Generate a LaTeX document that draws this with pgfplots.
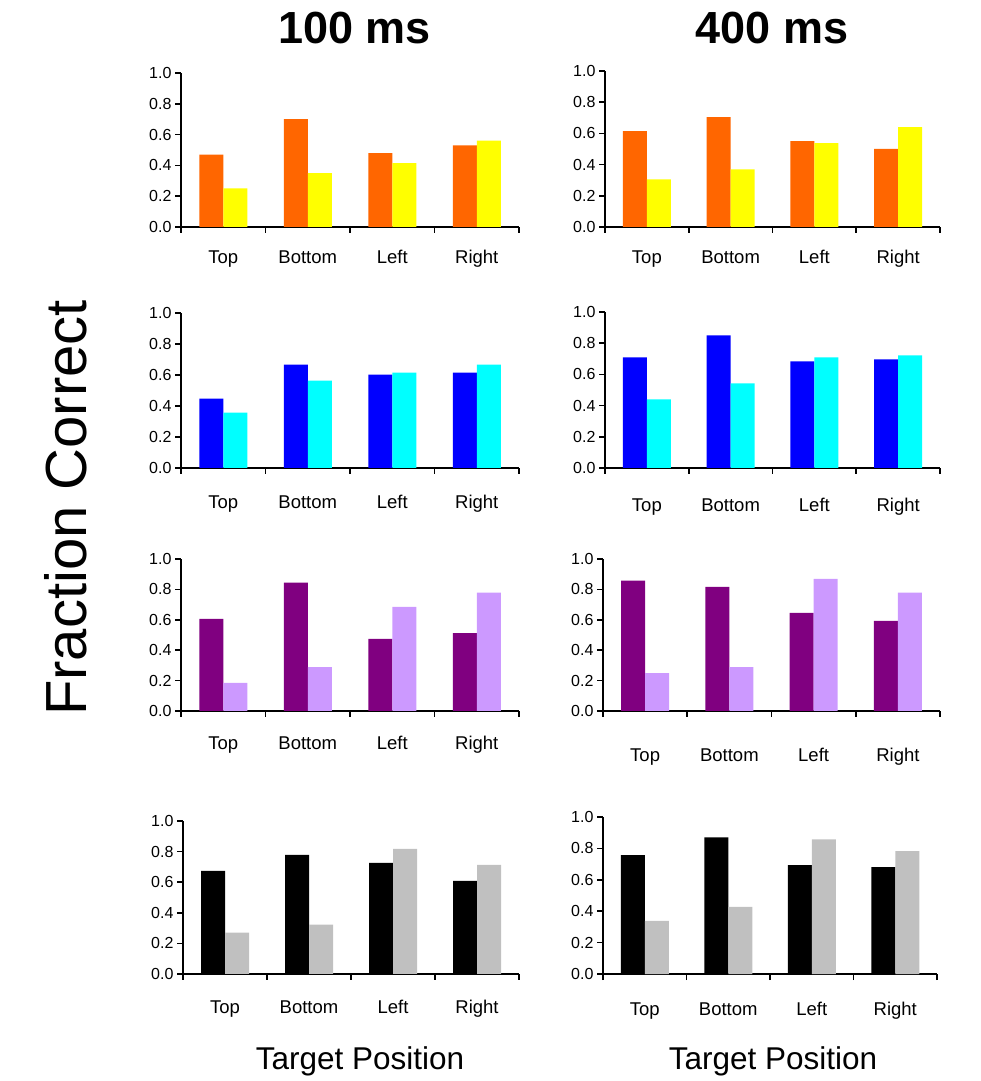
\documentclass[border=0pt]{standalone}
\usepackage{fontspec}
\setmainfont{Liberation Sans}
\usepackage{pgfplots}
\pgfplotsset{compat=1.18}
\definecolor{corange}{HTML}{FF6600}
\definecolor{cyellow}{HTML}{FFFF00}
\definecolor{cblue}{HTML}{0000FF}
\definecolor{ccyan}{HTML}{00FFFF}
\definecolor{cpurple}{HTML}{800080}
\definecolor{clilac}{HTML}{CC99FF}
\definecolor{cgray}{HTML}{C0C0C0}
\pgfplotsset{
  panel/.style={
    scale only axis, anchor=south west,
    ybar=0pt, bar width=24pt,
    ymin=0, ymax=1, xmin=-0.5, xmax=3.5,
    ytick={0,0.2,0.4,0.6,0.8,1.0},
    yticklabel style={font=\fontsize{16}{18}\selectfont, /pgf/number format/.cd, fixed, fixed zerofill, precision=1, assume math mode=true},
    xtick={-0.5,0.5,1.5,2.5,3.5}, xticklabels={},
    extra x ticks={0,1,2,3}, extra x tick labels={Top,Bottom,Left,Right},
    extra x tick style={major tick length=0pt, tick label style={font=\fontsize{18.5}{20}\selectfont, text height=13pt, text depth=4pt, anchor=center, yshift=-#1}},
    axis x line=bottom, axis y line=left,
    axis line style={-, line width=1.6pt},
    tick style={line width=1.6pt, black},
    major tick length=6pt, tick align=outside,
    every axis plot/.append style={draw=none},
  }
}
\begin{document}
\begin{tikzpicture}
\path[use as bounding box] (0pt,0pt) rectangle (980pt,1081pt);
% Row 1
\begin{axis}[panel=32pt, at={(181pt,854pt)}, width=338pt, height=154pt]
\addplot[fill=corange] coordinates {(0,0.47) (1,0.70) (2,0.48) (3,0.53)};
\addplot[fill=cyellow] coordinates {(0,0.25) (1,0.35) (2,0.415) (3,0.56)};
\end{axis}
\begin{axis}[panel=32pt, at={(605pt,854pt)}, width=335pt, height=156pt]
\addplot[fill=corange] coordinates {(0,0.615) (1,0.705) (2,0.55) (3,0.50)};
\addplot[fill=cyellow] coordinates {(0,0.306) (1,0.37) (2,0.537) (3,0.64)};
\end{axis}
% Row 2
\begin{axis}[panel=36pt, at={(181pt,613pt)}, width=338pt, height=155pt]
\addplot[fill=cblue] coordinates {(0,0.447) (1,0.667) (2,0.602) (3,0.615)};
\addplot[fill=ccyan] coordinates {(0,0.357) (1,0.563) (2,0.615) (3,0.667)};
\end{axis}
\begin{axis}[panel=39pt, at={(605pt,613pt)}, width=335pt, height=156pt]
\addplot[fill=cblue] coordinates {(0,0.709) (1,0.85) (2,0.684) (3,0.697)};
\addplot[fill=ccyan] coordinates {(0,0.44) (1,0.543) (2,0.709) (3,0.722)};
\end{axis}
% Row 3
\begin{axis}[panel=34pt, at={(181pt,370pt)}, width=338pt, height=152pt]
\addplot[fill=cpurple] coordinates {(0,0.606) (1,0.844) (2,0.474) (3,0.513)};
\addplot[fill=clilac] coordinates {(0,0.185) (1,0.289) (2,0.685) (3,0.778)};
\end{axis}
\begin{axis}[panel=46pt, at={(603pt,370pt)}, width=337pt, height=152pt]
\addplot[fill=cpurple] coordinates {(0,0.857) (1,0.817) (2,0.645) (3,0.593)};
\addplot[fill=clilac] coordinates {(0,0.249) (1,0.289) (2,0.87) (3,0.778)};
\end{axis}
% Row 4
\begin{axis}[panel=35pt, at={(183pt,107pt)}, width=336pt, height=153pt]
\addplot[fill=black] coordinates {(0,0.674) (1,0.778) (2,0.726) (3,0.609)};
\addplot[fill=cgray] coordinates {(0,0.27) (1,0.322) (2,0.817) (3,0.713)};
\end{axis}
\begin{axis}[panel=37pt, at={(603pt,107pt)}, width=334pt, height=157pt]
\addplot[fill=black] coordinates {(0,0.757) (1,0.871) (2,0.693) (3,0.681)};
\addplot[fill=cgray] coordinates {(0,0.338) (1,0.427) (2,0.858) (3,0.782)};
\end{axis}
% Titles and labels
\node[font=\fontsize{45}{50}\selectfont\bfseries] at (354.5pt,1053pt) {100 ms};
\node[font=\fontsize{45}{50}\selectfont\bfseries] at (772pt,1053pt) {400 ms};
\node[font=\fontsize{58}{62}\selectfont, rotate=90] at (66pt,573pt) {Fraction Correct};
\node[font=\fontsize{31.5}{34}\selectfont] at (360pt,20pt) {Target Position};
\node[font=\fontsize{31.5}{34}\selectfont] at (773pt,20pt) {Target Position};
\end{tikzpicture}
\end{document}
